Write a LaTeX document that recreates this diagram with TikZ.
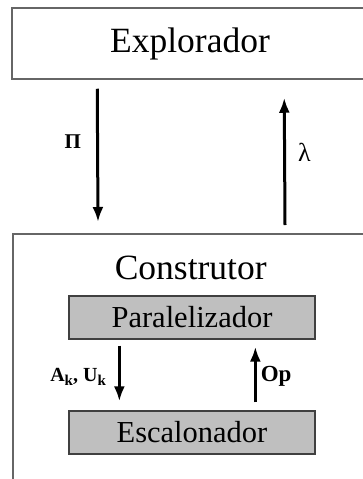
\documentclass[tikz,border=0pt]{standalone}
\usepackage{fontspec}
\setmainfont{Liberation Serif}
\usetikzlibrary{arrows.meta}
\newcommand{\lowk}{\raisebox{-0.22em}{\fontsize{15}{16}\selectfont k}}
\begin{document}
\begin{tikzpicture}[x=1pt, y=-1pt, >={Latex[length=15pt,width=11pt]},
    outerbox/.style={draw=black!60, line width=1.5pt, minimum width=356pt, inner sep=0pt},
    innerbox/.style={draw=black!75, fill=black!25, line width=1.3pt, minimum width=246pt,
        minimum height=43pt, inner sep=0pt, font=\fontsize{30.5}{34}\selectfont},
    flow/.style={->, line width=3pt},
    lbl/.style={inner sep=0pt, font=\fontsize{23}{26}\selectfont\bfseries}]
    % Page frame
    \useasboundingbox (0,0) rectangle (363,479);
    \clip (0,0) rectangle (363,479);

    % Top block
    \node[outerbox, minimum height=71pt, font=\fontsize{35.5}{40}\selectfont] (explorador) at (190,43.5) {Explorador};

    % Lower block with its two stages
    \node[outerbox, minimum height=300pt, anchor=north west,
        label={[anchor=center, yshift=-35pt, font=\fontsize{35.5}{40}\selectfont]north:Construtor}] (construtor) at (12,233) {};
    \node[innerbox] (paralelizador) at (192,317.5) {Paralelizador};
    \node[innerbox] (escalonador) at (192,432.5) {Escalonador};

    % Between the blocks
    \draw[flow] ([xshift=86pt, yshift=-9pt]explorador.south west) -- ([xshift=86pt, yshift=11pt]construtor.north west)
        node[lbl, pos=0.4, left=15pt, font=\fontsize{21}{23}\selectfont\bfseries] {Π};
    \draw[flow] ([xshift=273pt, yshift=8pt]construtor.north west) -- ([xshift=273pt, yshift=-18pt]explorador.south west)
        node[pos=0.57, right=12pt, inner sep=0pt, font=\fontsize{26}{28}\selectfont] {λ};

    % Inside the lower block
    \draw[flow] ([xshift=51pt, yshift=-6pt]paralelizador.south west) -- ([xshift=51pt, yshift=9pt]escalonador.north west)
        node[lbl, pos=0.56, left=12pt, font=\fontsize{20}{24}\selectfont\bfseries] {A\lowk, U\lowk};
    \draw[flow] ([xshift=187pt, yshift=8pt]escalonador.north west) -- ([xshift=187pt, yshift=-7pt]paralelizador.south west)
        node[lbl, pos=0.46, right=4pt] {Op};
\end{tikzpicture}
\end{document}
